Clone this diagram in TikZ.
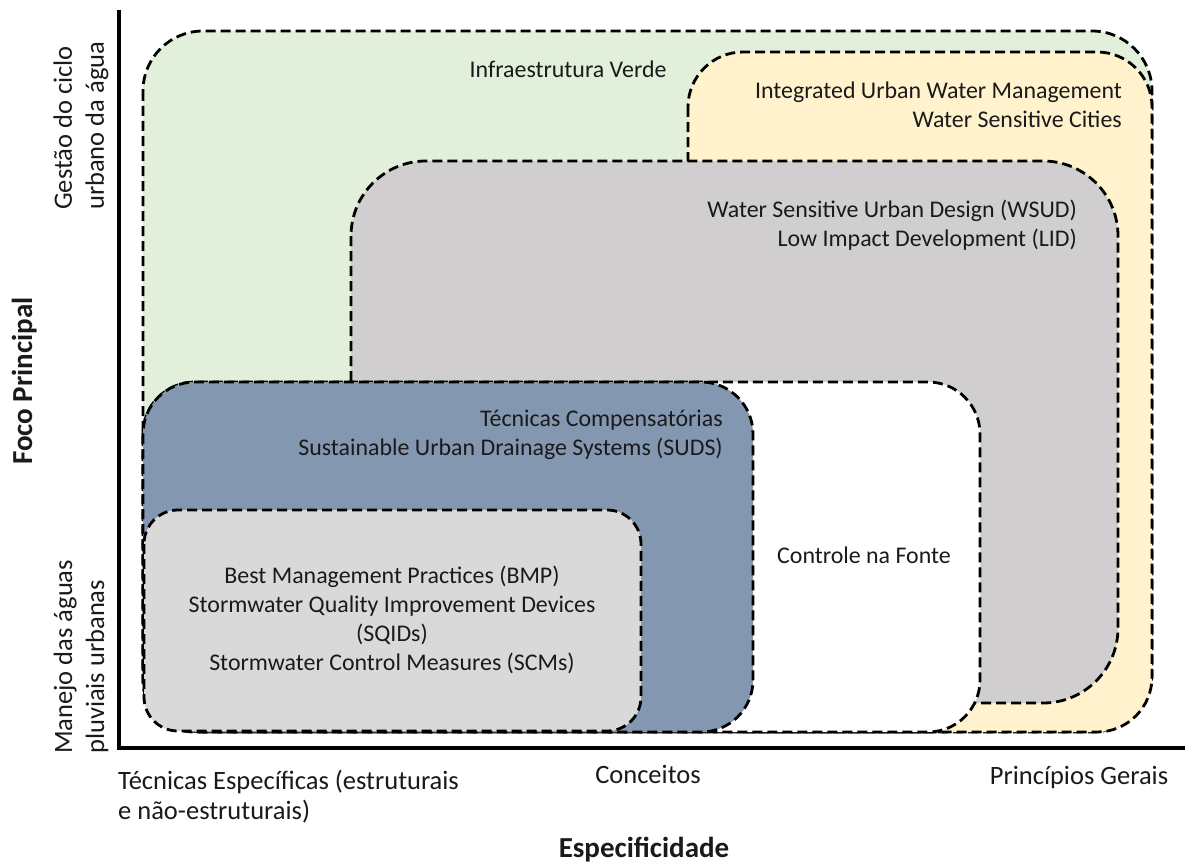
\documentclass[tikz,border=0pt]{standalone}
\usepackage{fontspec}
\setmainfont{Carlito}
\definecolor{cgreen}{HTML}{E2EFDA}
\definecolor{cyellow}{HTML}{FFF2CC}
\definecolor{cgray}{HTML}{D0CECE}
\definecolor{cblue}{HTML}{8497B0}
\definecolor{clight}{HTML}{D9D9D9}
\definecolor{ctext}{HTML}{1A1A1A}
\tikzset{
  region/.style={draw=black, line width=2.8pt, dash pattern=on 10pt off 5pt},
  lbl/.style={font=\fontsize{23.9pt}{29pt}\selectfont, text=ctext, inner sep=0pt},
  axlbl/.style={font=\fontsize{26.5pt}{30pt}\selectfont, text=ctext, inner sep=0pt},
  sidelbl/.style={font=\fontsize{26.5pt}{32pt}\selectfont, text=ctext, inner sep=0pt},
  blbl/.style={font=\fontsize{29pt}{34pt}\selectfont\bfseries, text=ctext, inner sep=0pt},
  axisline/.style={line width=4pt, black}
}
\begin{document}
\begin{tikzpicture}[x=1pt,y=-1pt]
\useasboundingbox (0,0) rectangle (1185,864);
\fill[white] (0,0) rectangle (1185,864);
% regions (back to front)
\filldraw[region, fill=cgreen, rounded corners=60pt] (143,31) rectangle (1152,732);
\filldraw[region, fill=cyellow, rounded corners=55pt] (688,52) rectangle (1152,732);
\filldraw[region, fill=cgray, rounded corners=75pt] (351,161) rectangle (1118,703);
\filldraw[region, fill=white, rounded corners=52pt] (143,382) rectangle (980,732);
\filldraw[region, fill=cblue, rounded corners=52pt] (143,382) rectangle (753,732);
\filldraw[region, fill=clight, rounded corners=34pt] (144,510) rectangle (641,731);
% axes
\coordinate (ytop) at (119,10);
\coordinate (origin) at (119,748);
\coordinate (xend) at (1185,748);
\draw[axisline] (ytop) -- (119,750);
\draw[axisline] (117,748) -- (xend);
% region labels
\node[lbl, anchor=base] (iv) at (568,78) {Infraestrutura Verde};
\node[lbl, align=right, anchor=east] (iuwm) at (1122,105) {Integrated Urban Water Management\\Water Sensitive Cities};
\node[lbl, align=right, anchor=east] (wsud) at (1077,225) {Water Sensitive Urban Design (WSUD)\\Low Impact Development (LID)};
\node[lbl, align=right, anchor=east] (suds) at (723,435) {Técnicas Compensatórias\\Sustainable Urban Drainage Systems (SUDS)};
\node[lbl, anchor=base] (cf) at (864,563) {Controle na Fonte};
\node[lbl, align=center] (bmp) at (392,620) {Best Management Practices (BMP)\\Stormwater Quality Improvement Devices\\(SQIDs)\\Stormwater Control Measures (SCMs)};
% axis labels
\node[blbl, rotate=90, anchor=base] (foco) at (32,381) {Foco Principal};
\node[sidelbl, rotate=90, align=left, anchor=west] (gestao) at (81,210) {Gestão do ciclo\\urbano da água};
\node[sidelbl, rotate=90, align=left, anchor=west] (manejo) at (81,754) {Manejo das águas\\pluviais urbanas};
\node[axlbl, align=left, anchor=west] (tec) at (118,797) {Técnicas Específicas (estruturais\\e não-estruturais)};
\node[axlbl, anchor=base] (conc) at (648,783) {Conceitos};
\node[axlbl, anchor=base] (princ) at (1079,784) {Princípios Gerais};
\node[blbl, anchor=base] (esp) at (644,857) {Especificidade};
\end{tikzpicture}
\end{document}
